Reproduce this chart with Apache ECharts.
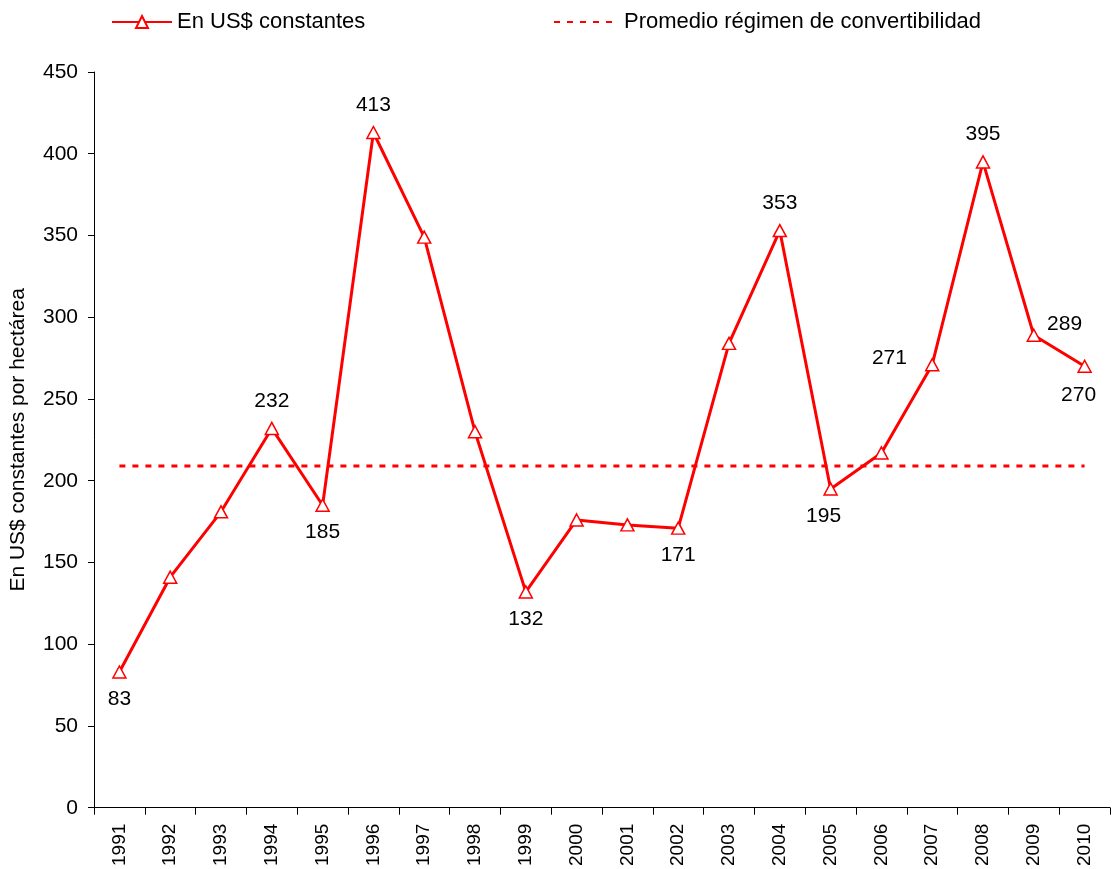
<!DOCTYPE html>
<html>
<head>
<meta charset="utf-8">
<script src="https://cdn.jsdelivr.net/npm/echarts@6/dist/echarts.min.js"></script>
<style>
  html, body { margin: 0; padding: 0; background: #fff; }
  #chart { width: 1114px; height: 869px; }
</style>
</head>
<body>
<div id="chart"></div>
<script>
var years = ['1991', '1992', '1993', '1994', '1995', '1996', '1997', '1998', '1999', '2000',
             '2001', '2002', '2003', '2004', '2005', '2006', '2007', '2008', '2009', '2010'];
var values = [83, 141, 181, 232, 185, 413, 349, 230, 132, 176,
              173, 171, 284, 353, 195, 217, 271, 395, 289, 270];
// promedio 1991-2001
var avgLine = [['1991', 209], ['2010', 209]];
// which points carry a label and where
var labelPos = {
    0: 'bottom', 3: 'top', 4: 'bottom', 5: 'top', 8: 'bottom', 11: 'bottom',
    13: 'top', 14: 'bottom', 16: 'left', 17: 'top', 18: 'right', 19: 'bottom'
};

var font = 'Liberation Sans, Arial, sans-serif';

var seriesData = values.map(function (v, i) {
    var item = { value: v };
    var pos = labelPos[i];
    if (pos) {
        item.label = { show: true, position: pos, distance: 10 };
        if (pos === 'left') { item.label.distance = 18; item.label.offset = [0, -6]; }
        if (pos === 'right') { item.label.distance = 6; item.label.offset = [0, -11]; }
        if (i === 14) { item.label.offset = [-7, 0]; }
        if (i === 19) { item.label.offset = [-6, 2]; }
    }
    return item;
});

var chart = echarts.init(document.getElementById('chart'));
var option = {
    animation: false,
    textStyle: { fontFamily: font },
    legend: [{
        left: 106,
        top: 6,
        itemWidth: 60,
        itemHeight: 15,
        textStyle: { fontSize: 22, color: '#000', fontFamily: font },
        data: ['En US$ constantes']
    }, {
        left: 548,
        top: 6,
        itemWidth: 62,
        itemHeight: 15,
        itemStyle: { opacity: 0 },
        textStyle: { fontSize: 22, color: '#000', fontFamily: font, padding: [0, 0, 0, 3] },
        data: ['Promedio régimen de convertibilidad']
    }],
    grid: {
        left: 93,
        right: 4,
        top: 72,
        bottom: 61
    },
    xAxis: {
        type: 'category',
        data: years,
        boundaryGap: true,
        axisLine: { lineStyle: { color: '#000', width: 1 } },
        axisTick: { show: true, length: 7, lineStyle: { color: '#000' } },
        axisLabel: {
            rotate: 90,
            interval: 0,
            margin: 16,
            fontSize: 19,
            color: '#000',
            fontFamily: font
        },
        splitLine: { show: false }
    },
    yAxis: {
        type: 'value',
        min: 0,
        max: 450,
        interval: 50,
        name: 'En US$ constantes por hectárea',
        nameLocation: 'middle',
        nameGap: 65,
        nameTextStyle: { fontSize: 21, color: '#000', fontFamily: font },
        axisLine: { show: true, lineStyle: { color: '#000', width: 1 } },
        axisTick: { show: true, length: 6, lineStyle: { color: '#000' } },
        axisLabel: { fontSize: 21, color: '#000', margin: 16, fontFamily: font },
        splitLine: { show: false }
    },
    series: [{
        name: 'En US$ constantes',
        type: 'line',
        data: seriesData,
        symbol: 'triangle',
        symbolSize: [13, 12],
        showAllSymbol: true,
        lineStyle: { color: '#ff0000', width: 3 },
        itemStyle: { color: '#ffffff', borderColor: '#ff0000', borderWidth: 1.5 },
        label: { show: false, fontSize: 21, color: '#000', fontFamily: font },
        emphasis: { disabled: true },
        z: 3
    }, {
        name: 'Promedio régimen de convertibilidad',
        type: 'line',
        data: avgLine,
        symbol: 'none',
        lineStyle: { color: '#ff0000', width: 3, type: [6, 7] },
        itemStyle: { color: '#ff0000' },
        emphasis: { disabled: true },
        z: 2
    }]
};
chart.setOption(option);
</script>
</body>
</html>
